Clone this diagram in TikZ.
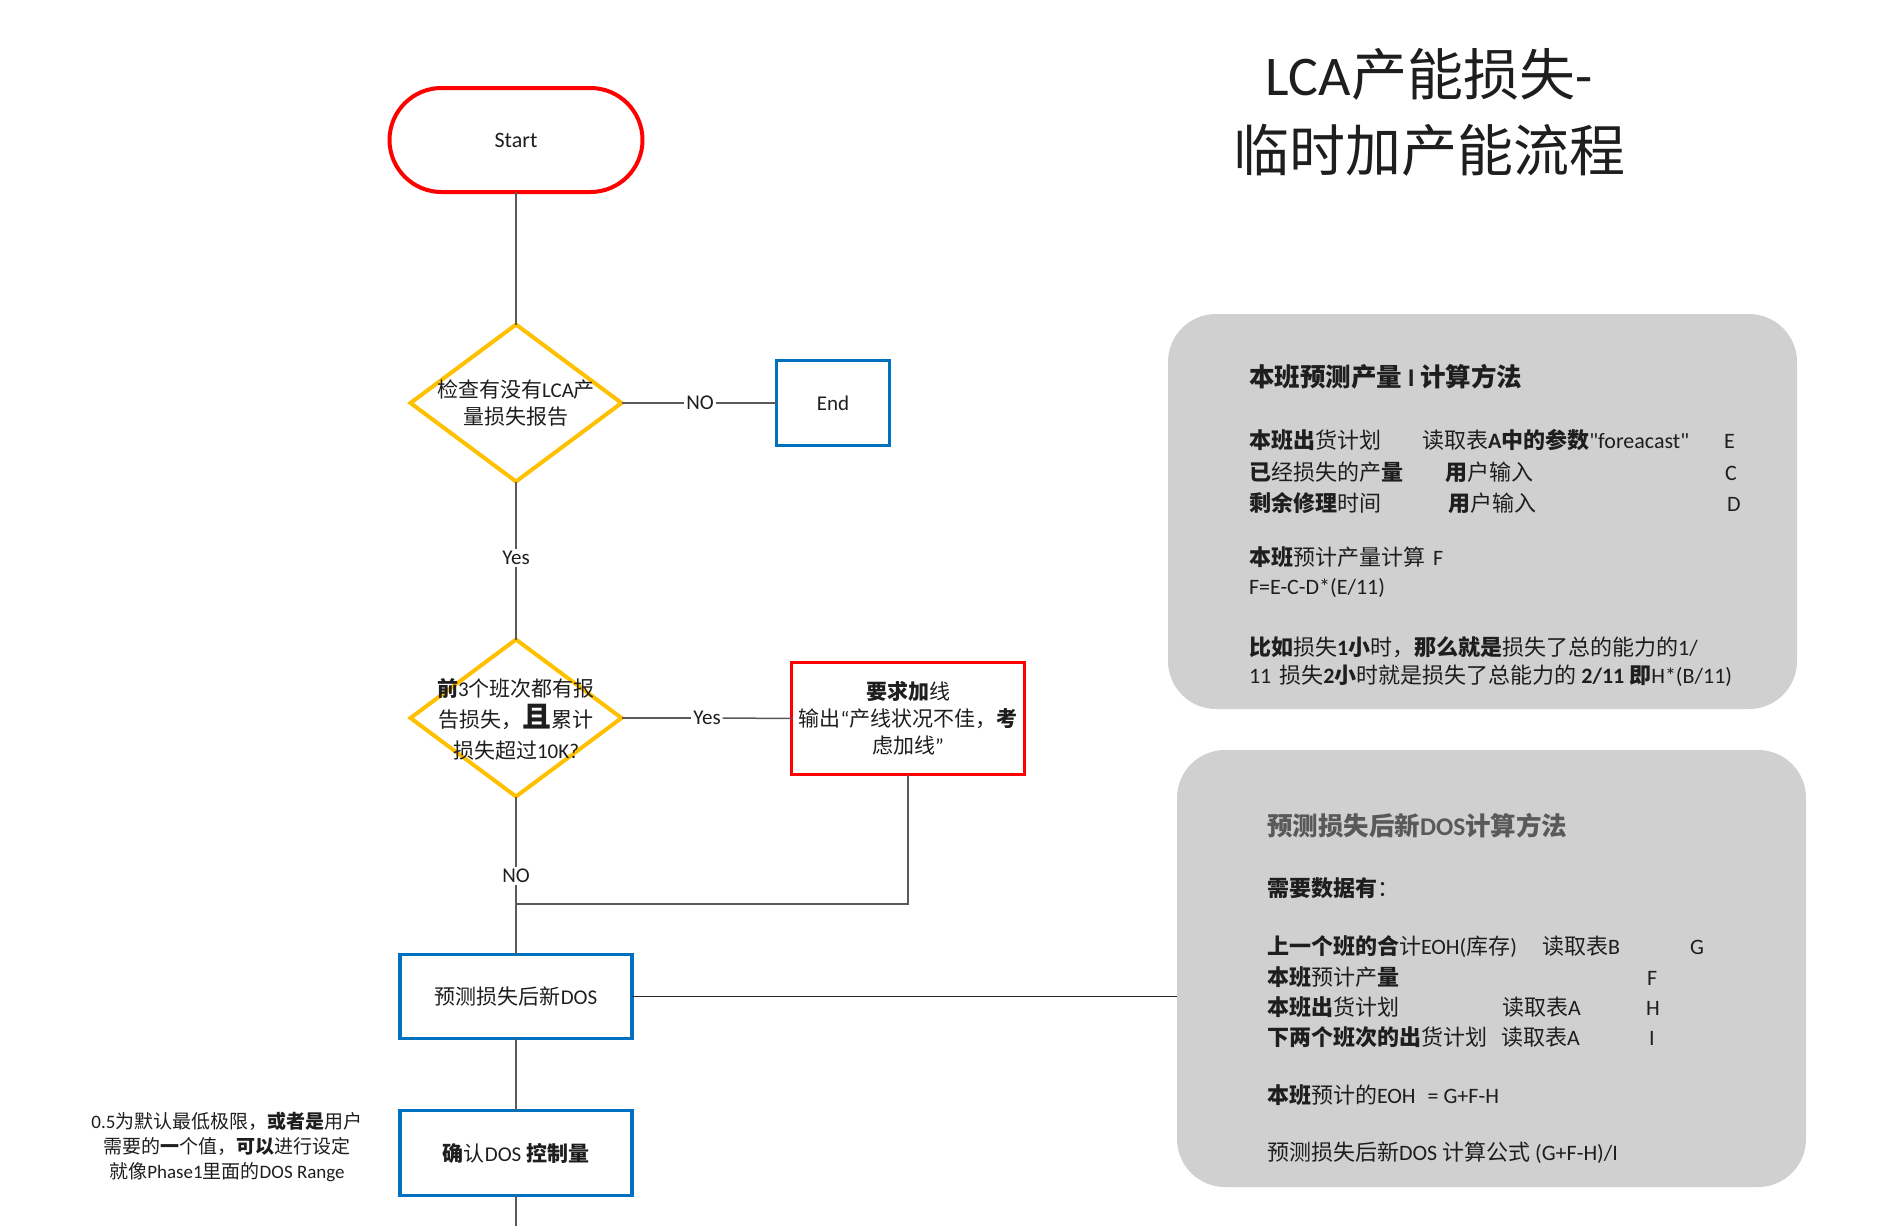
\documentclass[tikz,border=0pt]{standalone}
\usepackage{fontspec}
\setmainfont{Carlito}
\newfontfamily\cjkf{Noto Sans CJK SC}
\newfontfamily\latf{Carlito}
\XeTeXinterchartokenstate=1
\newXeTeXintercharclass\CJKcls
\def\setcjkrange#1#2{\count255=#1 \loop \XeTeXcharclass\count255=\CJKcls \ifnum\count255<#2 \advance\count255 by 1 \repeat}
\setcjkrange{"4E00}{"9FFF}
\setcjkrange{"3000}{"303F}
\setcjkrange{"FF00}{"FFEF}
\XeTeXinterchartoks 0 \CJKcls = {\cjkf}
\XeTeXinterchartoks 4095 \CJKcls = {\cjkf}
\XeTeXinterchartoks \CJKcls 0 = {\latf}
\XeTeXinterchartoks \CJKcls 4095 = {\latf}
\usetikzlibrary{shapes.geometric}
\definecolor{flowred}{RGB}{255,0,0}
\definecolor{flowblue}{RGB}{0,112,192}
\definecolor{flowyellow}{RGB}{255,192,0}
\definecolor{panelgray}{RGB}{208,208,208}
\definecolor{linegray}{RGB}{90,90,90}
\definecolor{txt}{RGB}{30,30,30}
\definecolor{paneltitle}{RGB}{89,89,89}
\begin{document}
\begin{tikzpicture}[x=1pt,y=-1pt,
 every node/.style={inner sep=0pt,outer sep=0pt,text=txt},
 conn/.style={draw=linegray,line width=1.5pt},
 conndark/.style={draw=black!85,line width=1.5pt},
 startbox/.style={draw=flowred,line width=4pt,rounded corners=52pt,minimum width=253pt,minimum height=104pt,font=\fontsize{22}{26}\selectfont},
 decision/.style={diamond,draw=flowyellow,line width=4pt,minimum width=211pt,minimum height=157pt},
 dtext/.style={align=center,font=\fontsize{21}{27}\selectfont},
 bluebox/.style={draw=flowblue,line width=3.5pt,font=\fontsize{21}{26}\selectfont,align=center},
 redbox/.style={draw=flowred,line width=3pt,font=\fontsize{21}{27}\selectfont,align=center},
 lbl/.style={fill=white,inner sep=2pt,font=\fontsize{21}{24}\selectfont},
 panel/.style={fill=panelgray,rounded corners=48pt},
 pl/.style={anchor=base west,font=\fontsize{22}{26}\selectfont},
 ptitle/.style={anchor=base west,font=\fontsize{25.5}{30}\selectfont\bfseries}]
\useasboundingbox (0,0) rectangle (1880,1226);

% title
\node[align=center,font=\fontsize{56}{76}\selectfont] (title) at (1429,112) {LCA产能损失-\\临时加产能流程};

% panels
\node[panel,minimum width=629pt,minimum height=395pt] (panel1) at (1482.5,511.5) {};
\node[panel,minimum width=629pt,minimum height=437pt] (panel2) at (1491.5,968.5) {};

% flow nodes
\node[startbox] (start) at (516,140) {Start};
\node[decision] (d1) at (516,403) {};
\node[dtext] (d1t) at (516,403) {检查有没有LCA产\\量损失报告};
\node[bluebox,minimum width=113pt,minimum height=85pt] (end) at (833,403) {End};
\node[lbl] (no1) at (700,403) {NO};
\node[lbl] (yes1) at (516,558) {Yes};
\node[decision] (d2) at (516,718) {};
\node[dtext,font=\fontsize{21}{31}\selectfont] (d2t) at (516,719) {\textbf{前}3个班次都有报\\告损失，{\fontsize{29}{31}\selectfont\bfseries 且}累计\\损失超过10K?};
\node[redbox,minimum width=233pt,minimum height=112pt] (req) at (908,718.5) {\textbf{要求加}线\\输出“产线状况不佳，\textbf{考}\\虑加线”};
\node[lbl] (yes2) at (707,718) {Yes};
\node[lbl] (no2) at (516,876) {NO};
\coordinate (jn) at (516,904);
\node[bluebox,minimum width=232pt,minimum height=84pt] (dos) at (516,996.5) {预测损失后新DOS};
\node[bluebox,minimum width=232pt,minimum height=85pt] (conf) at (516,1153) {\textbf{确}认DOS \textbf{控制量}};
\coordinate (bottomend) at (516,1226);
\node[align=center,font=\fontsize{19}{25}\selectfont] (note) at (227,1147) {0.5为默认最低极限，\textbf{或者是}用户\\需要的\textbf{一}个值，\textbf{可以}进行设定\\就像Phase1里面的DOS Range};

% connectors
\draw[conn] (start.south) -- (d1.north);
\draw[conn] (d1.east) -- (no1.west);
\draw[conn] (no1.east) -- (end.west);
\draw[conn] (d1.south) -- (yes1.north);
\draw[conn] (yes1.south) -- (d2.north);
\draw[conn] (d2.east) -- (yes2.west);
\draw[conn] (yes2.east) -- (req.west);
\draw[conn] (d2.south) -- (no2.north);
\draw[conn] (no2.south) -- (dos.north);
\draw[conn] (req.south) |- (jn);
\draw[conn] (dos.south) -- (conf.north);
\draw[conn] (conf.south) -- (bottomend);
\draw[conndark] (dos.east) -- (dos.east -| panel2.west);

% panel 1 text
\node[ptitle] (p1title) at (1249,386) {本班预测产量 I 计算方法};
\node[pl] (p1r1a) at (1249,448) {\textbf{本班出}货计划};
\node[pl] (p1r1b) at (1422,448) {读取表\textbf{A中的参数}"foreacast"};
\node[pl] (p1r1c) at (1724,448) {E};
\node[pl] (p1r2a) at (1249,480) {\textbf{已}经损失的产\textbf{量}};
\node[pl] (p1r2b) at (1445,480) {\textbf{用}户输入};
\node[pl] (p1r2c) at (1725,480) {C};
\node[pl] (p1r3a) at (1249,511) {\textbf{剩余修理}时间};
\node[pl] (p1r3b) at (1448,511) {\textbf{用}户输入};
\node[pl] (p1r3c) at (1727,511) {D};
\node[pl] (p1r4) at (1249,565.5) {\textbf{本班}预计产量计算\hspace{8pt}F};
\node[pl] (p1r5) at (1249,594) {F=E-C-D*(E/11)};
\node[pl] (p1r6) at (1249,655) {\textbf{比如}损失\textbf{1小}时，\textbf{那么就是}损失了总的能力的1/};
\node[pl] (p1r7) at (1249,683) {11\hspace{8pt}损失\textbf{2小}时就是损失了总能力的 \textbf{2/11 即}H*(B/11)};

% panel 2 text
\node[ptitle,text=paneltitle] (p2title) at (1267,835) {预测损失后新DOS计算方法};
\node[pl] (p2need) at (1267,896) {\textbf{需要数据有}：};
\node[pl] (p2r1a) at (1267,954) {\textbf{上一个班的合}计EOH(库存)};
\node[pl] (p2r1b) at (1542,954) {读取表B};
\node[pl] (p2r1c) at (1690,954) {G};
\node[pl] (p2r2a) at (1267,985) {\textbf{本班}预计产\textbf{量}};
\node[pl] (p2r2c) at (1647,985) {F};
\node[pl] (p2r3a) at (1267,1015) {\textbf{本班出}货计划};
\node[pl] (p2r3b) at (1502,1015) {读取表A};
\node[pl] (p2r3c) at (1646,1015) {H};
\node[pl] (p2r4a) at (1267,1045) {\textbf{下两个班次的出}货计划};
\node[pl] (p2r4b) at (1501,1045) {读取表A};
\node[pl] (p2r4c) at (1649,1045) {I};
\node[pl] (p2r5) at (1267,1103) {\textbf{本班}预计的EOH\hspace{12pt}= G+F-H};
\node[pl] (p2r6) at (1267,1160) {预测损失后新DOS 计算公式 (G+F-H)/I};
\end{tikzpicture}
\end{document}
